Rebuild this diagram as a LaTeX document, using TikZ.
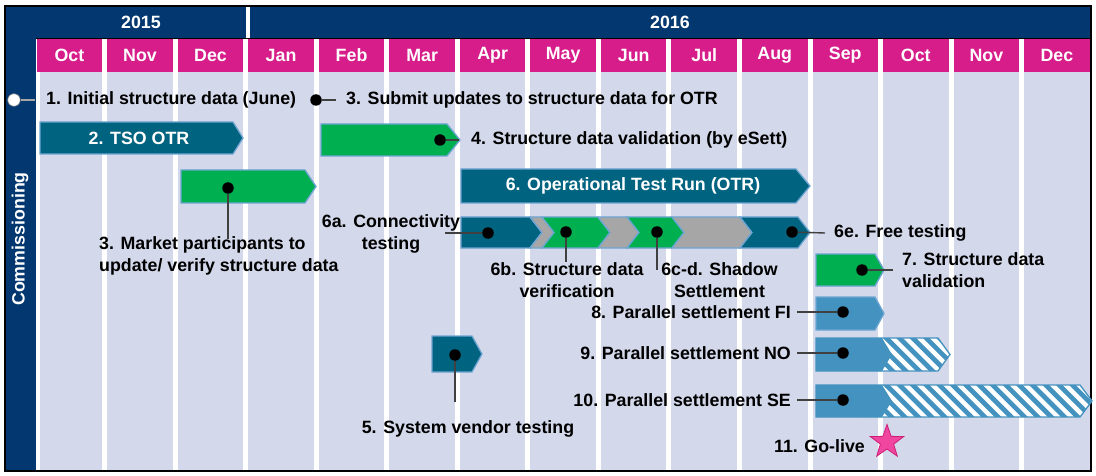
\documentclass[tikz,border=0pt]{standalone}
\usepackage{fontspec}
\setmainfont{Liberation Sans}
\usetikzlibrary{shapes.geometric}
\definecolor{navy}{RGB}{3,55,112}
\definecolor{mag}{RGB}{214,29,138}
\definecolor{lav}{RGB}{211,216,234}
\definecolor{tealA}{RGB}{0,99,128}
\definecolor{greenA}{RGB}{0,176,80}
\definecolor{greyA}{RGB}{166,166,166}
\definecolor{barblue}{RGB}{67,146,191}
\definecolor{edgeblue}{RGB}{110,165,210}
\definecolor{connc}{RGB}{64,64,64}
\definecolor{starpink}{RGB}{240,70,160}
\definecolor{staredge}{RGB}{205,30,120}
\newcommand{\pent}[6]{\path[#6] (#1,#2) -- ({#3-#5},#2) -- (#3,{(#2+#4)/2}) -- ({#3-#5},#4) -- (#1,#4) -- cycle;}
\newcommand{\chev}[6]{\path[#6] (#1,#2) -- ({#3-#5},#2) -- (#3,{(#2+#4)/2}) -- ({#3-#5},#4) -- (#1,#4) -- ({#1+#5},{(#2+#4)/2}) -- cycle;}
\tikzset{
  txt/.style={font=\fontsize{17.8}{22.5}\selectfont\bfseries, inner sep=0pt},
  wtxt/.style={txt, text=white},
  connline/.style={draw=connc, line width=1.4pt},
  blackdot/.style={circle, fill=black, minimum size=11.5pt, inner sep=0pt},
  boxedge/.style={draw=edgeblue, line width=1.3pt},
}
\begin{document}
\begin{tikzpicture}[x=1pt,y=-1pt]
\fill[white] (0,0) rectangle (1096,476);
\useasboundingbox (0,0) rectangle (1096,476);
% year bar and left column
\fill[navy] (5,6) rectangle (1091,38.5);
\fill[navy] (5,6) rectangle (35.5,471);
\fill[white] (246,6) rectangle (250,38);
\draw[black, line width=1pt] (36,38.5) -- (1091,38.5);
\node[wtxt] (y2015) at (141,22) {2015};
\node[wtxt] (y2016) at (670,22) {2016};
\node[wtxt, rotate=90] (comm) at (20,239) {Commissioning};
% month columns
\foreach \i/\m in {0/Oct,1/Nov,2/Dec,3/Jan,4/Feb,5/Mar,6/Apr,7/May,8/Jun,9/Jul,10/Aug,11/Sep,12/Oct,13/Nov,14/Dec} {
  \pgfmathsetmacro\xl{36.7+\i*70.53}
  \fill[mag] (\xl,39.3) rectangle ++(65.5,32.7);
  \fill[lav] (\xl,72) rectangle ++(65.5,398.5);
  \node[wtxt] (m\i) at ({\xl+32.75},55.5) {\m};
}
\fill[white] (35.5,72) rectangle (40,470.5);
\draw[black, line width=1.5pt] (5,6) rectangle (1091,471);
% 1 and 3 (top row)
\node[circle, fill=white, draw=gray, line width=0.6pt, minimum size=12.5pt, inner sep=0pt] (d1) at (14,100) {};
\node[txt, anchor=west] (t1) at (46,100) {1. Initial structure data (June)};
\draw[gray!70, line width=1.4pt] (d1) -- ([xshift=-11pt]t1.west);
\node[blackdot] (d3s) at (316,100) {};
\node[txt, anchor=west] (t3s) at (346,100) {3. Submit updates to structure data for OTR};
\draw[connline] (d3s) -- ([xshift=-10pt]t3s.west);
% 2 TSO OTR
\pent{40}{122}{243}{154}{10}{fill=tealA, boxedge}
\node[wtxt] (t2) at (139,138) {2. TSO OTR};
% 4 structure data validation
\pent{321}{124}{460}{156}{13}{fill=greenA, boxedge}
\node[blackdot] (d4) at (440,140) {};
\node[txt, anchor=west] (t4) at (471,140) {4. Structure data validation (by eSett)};
\draw[connline] (d4) -- ([xshift=-12pt]t4.west);
% 3 market participants
\pent{181}{170}{316}{203}{11}{fill=greenA, boxedge}
\node[blackdot] (d3m) at (228,188) {};
\node[txt, anchor=north west, align=left] (t3m) at (99,236) {3. Market participants to\\update/ verify structure data};
\draw[connline] (d3m) -- ([yshift=-3pt]d3m |- t3m.north);
% 6 OTR
\pent{461}{169}{810}{203}{14}{fill=tealA, boxedge}
\node[wtxt] (t6) at (633,186) {6. Operational Test Run (OTR)};
% chevron strip
\pent{461}{217}{542}{248}{12}{fill=tealA, boxedge}
\chev{530}{217}{554}{248}{12}{fill=greyA, boxedge}
\chev{542}{217}{610}{248}{12}{fill=greenA, boxedge}
\chev{598}{217}{639}{248}{12}{fill=greyA, boxedge}
\chev{627}{217}{684}{248}{12}{fill=greenA, boxedge}
\chev{672}{217}{752}{248}{12}{fill=greyA, boxedge}
\chev{740}{217}{810}{248}{12}{fill=tealA, boxedge}
\node[txt, align=center] (t6a) at (391,234) {6a. Connectivity\\testing};
\node[blackdot] (d6a) at (488,233) {};
\coordinate (c6a) at (445,233);
\draw[connline] (d6a) -- (c6a);
\node[blackdot] (d6b) at (566,232) {};
\node[txt, align=center, anchor=north] (t6b) at (567,262) {6b. Structure data\\verification};
\draw[connline] (d6b) -- (d6b |- t6b.north);
\node[blackdot] (d6c) at (657,232) {};
\node[txt, align=center, anchor=north] (t6c) at (719.5,262) {6c-d. Shadow\\Settlement};
\coordinate (c6c) at (657,270);
\draw[connline] (d6c) -- (c6c);
\node[blackdot] (d6e) at (792,232) {};
\node[txt, anchor=west] (t6e) at (834,233) {6e. Free testing};
\draw[connline] (d6e) -- ([xshift=-9pt]t6e.west);
% 7
\pent{816}{254}{884}{286}{9}{fill=greenA, boxedge}
\node[blackdot] (d7) at (862,270) {};
\node[txt, anchor=west, align=left] (t7) at (902,270) {7. Structure data\\validation};
\draw[connline] (d7) -- ([xshift=-9pt]t7.west);
% 8
\pent{816}{297}{884}{330}{9}{fill=barblue, boxedge}
\node[blackdot] (d8) at (843,312) {};
\node[txt, anchor=east] (t8) at (791,312) {8. Parallel settlement FI};
\draw[connline] (d8) -- ([xshift=6pt]t8.east);
% 9
\pent{816}{338}{950}{371}{12}{fill=white}
\begin{scope}
\clip (816,338) -- (938,338) -- (950,354.5) -- (938,371) -- (816,371) -- cycle;
\foreach \k in {820,833.3,...,960} \draw[barblue, line width=4.7pt] (\k,325) -- ++(60,60);
\end{scope}
\pent{816}{338}{892}{371}{10}{fill=barblue}
\pent{816}{338}{950}{371}{12}{draw=barblue, line width=1.3pt}
\node[blackdot] (d9) at (843,353) {};
\node[txt, anchor=east] (t9) at (791,353) {9. Parallel settlement NO};
\draw[connline] (d9) -- ([xshift=6pt]t9.east);
% 10
\pent{816}{385}{1092}{417}{12}{fill=white}
\begin{scope}
\clip (816,385) -- (1080,385) -- (1092,401) -- (1080,417) -- (816,417) -- cycle;
\foreach \k in {820,833.3,...,1100} \draw[barblue, line width=4.7pt] (\k,372) -- ++(60,60);
\end{scope}
\pent{816}{385}{892}{417}{10}{fill=barblue}
\pent{816}{385}{1092}{417}{12}{draw=barblue, line width=1.3pt}
\node[blackdot] (d10) at (843,400) {};
\node[txt, anchor=east] (t10) at (791,400) {10. Parallel settlement SE};
\draw[connline] (d10) -- ([xshift=6pt]t10.east);
% 11
\node[txt, anchor=east] (t11) at (865,446) {11. Go-live};
\node[star, star points=5, star point ratio=2.5, minimum size=35pt, inner sep=0pt, fill=starpink, draw=staredge, line width=0.8pt] (star) at (887,442) {};
% 5
\pent{432}{336}{482}{372}{10}{fill=tealA, boxedge}
\node[blackdot] (d5) at (455,355) {};
\node[txt] (t5) at (468,429) {5. System vendor testing};
\coordinate (c5) at (455,402);
\draw[connline] (d5) -- (c5);
\end{tikzpicture}
\end{document}
